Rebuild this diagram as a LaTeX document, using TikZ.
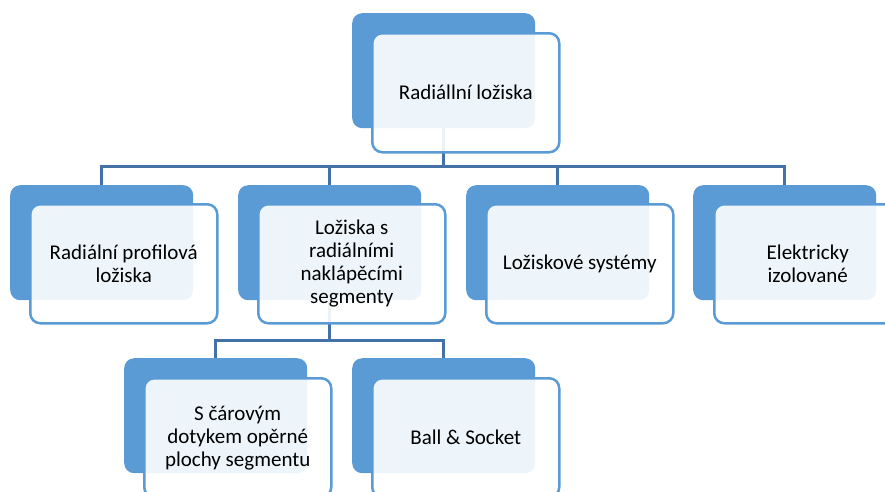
\documentclass[tikz,border=0pt]{standalone}
\usepackage{fontspec}
\setmainfont{Carlito}
\usetikzlibrary{backgrounds}
\definecolor{modra}{RGB}{91,155,213}
\definecolor{tmavamodra}{RGB}{68,114,166}
\tikzset{
	zadni/.style={fill=modra, rounded corners=10pt, minimum width=183pt, minimum height=115pt, anchor=north west, inner sep=0pt},
	predni/.style={draw=modra, line width=2.5pt, fill=white, fill opacity=0.9, text opacity=1, rounded corners=10pt, minimum width=187pt, minimum height=119pt, anchor=north west, align=center, inner sep=0pt, font=\fontsize{21}{23}\selectfont},
	spoj/.style={draw=tmavamodra, line width=2.8pt}
}

\begin{document}
\begin{tikzpicture}[x=1pt, y=-1pt]
		%%%%% START %%%%%
		
		\clip (0, 0) rectangle (885, 491);
		
		\node[zadni] (koren-z) at (352, 13) {};
		\node[predni] (koren) at (371, 32) {Radiállní ložiska};
		
		\node[zadni] (profil-z) at (10, 185) {};
		\node[predni] (profil) at (29, 203) {Radiální profilová\\ložiska};
		\node[zadni] (segm-z) at (238, 185) {};
		\node[predni] (segm) at (257, 203) {Ložiska s\\radiálními\\naklápěcími\\segmenty};
		\node[zadni] (syst-z) at (466, 185) {};
		\node[predni] (syst) at (485, 203) {Ložiskové systémy};
		\node[zadni] (izol-z) at (693, 185) {};
		\node[predni] (izol) at (713, 203) {Elektricky\\izolované};
		
		\node[zadni] (car-z) at (124, 358) {};
		\node[predni] (car) at (143, 377) {S čárovým\\dotykem opěrné\\plochy segmentu};
		\node[zadni] (ball-z) at (352, 358) {};
		\node[predni] (ball) at (371, 377) {Ball \& Socket};
		
		\begin{scope}[on background layer]
			\foreach \k in {profil, segm, syst, izol}
				\draw[spoj] (koren-z.south) -- ++(0, 38) -| (\k-z.north);
			\foreach \k in {car, ball}
				\draw[spoj] (segm-z.south) -- ++(0, 40) -| (\k-z.north);
		\end{scope}
		
		%%%%% END %%%%%
\end{tikzpicture}
\end{document}
